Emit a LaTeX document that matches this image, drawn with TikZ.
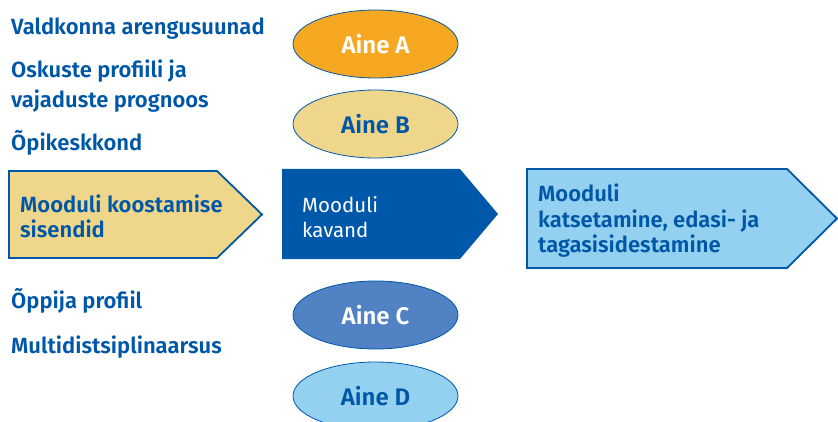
\documentclass[tikz,border=0pt]{standalone}
\usepackage{fontspec}
\setmainfont{Fira Sans}[BoldFont={Fira Sans SemiBold}]
\usetikzlibrary{shapes.geometric}
\definecolor{ebl}{RGB}{0,87,168}
\definecolor{eorange}{RGB}{247,168,35}
\definecolor{eyellow}{RGB}{238,214,139}
\definecolor{emid}{RGB}{80,130,196}
\definecolor{elight}{RGB}{148,209,240}
\definecolor{edark}{RGB}{0,88,170}
\begin{document}
\begin{tikzpicture}[x=1pt,y=-1pt,
  listtxt/.style={anchor=base west,inner sep=0pt,text=ebl,font=\fontsize{22}{26}\selectfont\bfseries},
  boxtxt/.style={anchor=base west,inner sep=0pt,text=ebl,font=\fontsize{22}{26}\selectfont\bfseries},
  darktxt/.style={anchor=base west,inner sep=0pt,text=white,font=\fontsize{20.5}{24}\selectfont},
  aine/.style={ellipse,draw=ebl,line width=0.8pt,minimum width=165pt,minimum height=68pt,inner sep=0pt,font=\fontsize{24}{28}\selectfont\bfseries},
  arrowbox/.style={line width=1.8pt,draw=ebl,line join=miter}]
\useasboundingbox (0,0) rectangle (838,422);
% list texts
\node[listtxt] (t1) at (11,35) {Valdkonna arengusuunad};
\node[listtxt] (t2) at (11,78) {Oskuste profiili ja};
\node[listtxt] (t2b) at (11,108) {vajaduste prognoos};
\node[listtxt] (t3) at (11,151) {Õpikeskkond};
\node[listtxt] (t4) at (11,308) {Õppija profiil};
\node[listtxt] (t5) at (11,353) {Multidistsiplinaarsus};
% ellipses
\node[aine,fill=eorange,text=white] (a) at (375.5,44) {Aine A};
\node[aine,fill=eyellow,text=ebl] (b) at (375.5,124) {Aine B};
\node[aine,fill=emid,text=white] (c) at (375.5,315) {Aine C};
\node[aine,fill=elight,text=ebl] (d) at (375.5,396) {Aine D};
% pentagons
\filldraw[arrowbox,fill=eyellow] (9,171) -- (217,171) -- (262,214.5) -- (217,258) -- (9,258) -- cycle;
\fill[edark] (282,169) -- (460,169) -- (498,214) -- (460,259) -- (282,259) -- cycle;
\filldraw[arrowbox,fill=elight] (527,169) -- (787,169) -- (837,218.5) -- (787,268) -- (527,268) -- cycle;
\node[boxtxt] (y1) at (20,213) {Mooduli koostamise};
\node[boxtxt] (y2) at (20,237) {sisendid};
\node[darktxt] (k1) at (302,213) {Mooduli};
\node[darktxt] (k2) at (302,237) {kavand};
\node[boxtxt] (l1) at (538,202) {Mooduli};
\node[boxtxt] (l2) at (538,228) {katsetamine, edasi- ja};
\node[boxtxt] (l3) at (538,253) {tagasisidestamine};
\end{tikzpicture}
\end{document}
